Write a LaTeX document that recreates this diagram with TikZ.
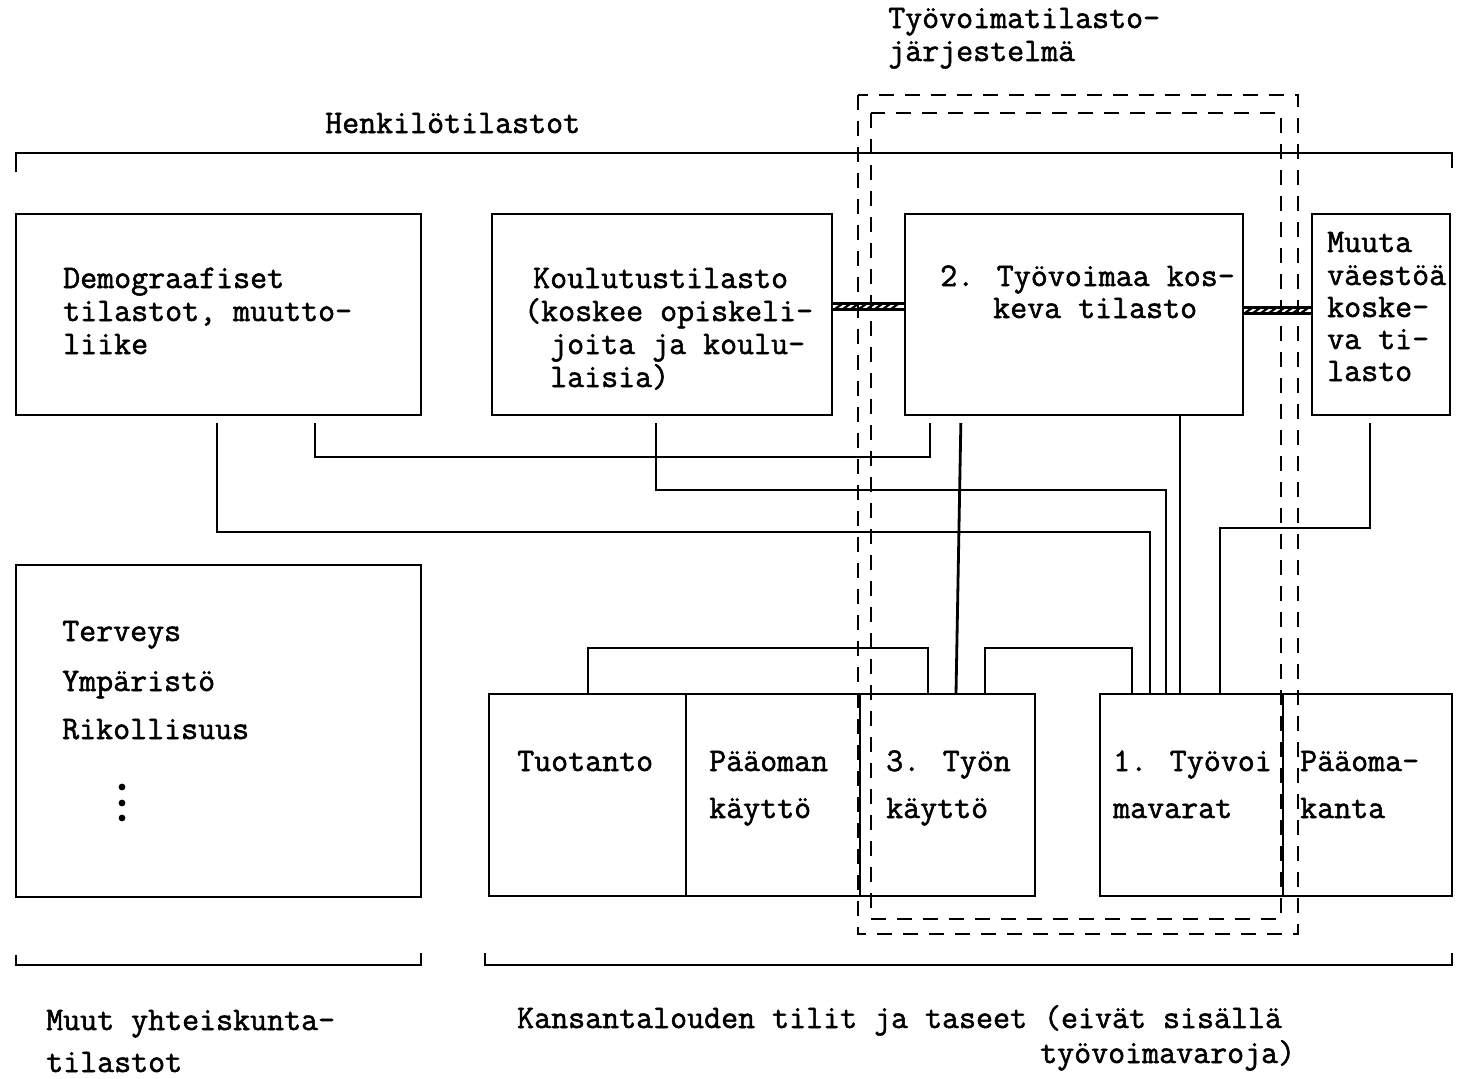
\documentclass[tikz,border=0pt]{standalone}
\usepackage{fontspec}
\newfontfamily\tw[FakeBold=1.6]{Latin Modern Mono}
\usetikzlibrary{calc}
\begin{document}
\begin{tikzpicture}[x=1pt,y=-1pt,
  box/.style={draw, line width=2.8pt, inner sep=0pt, outer sep=0pt, anchor=north west},
  conn/.style={draw, line width=2.8pt},
  gap/.style={shorten <=8pt},
  frame/.style={draw, line width=2.8pt, dash pattern=on 15pt off 11pt},
  hatch/.style={line width=2.2pt},
  txt/.style={anchor=base west, inner sep=0pt, font=\tw\fontsize{33}{33}\selectfont}]
\useasboundingbox[fill=white] (0,0) rectangle (1465,1079);

% boxes
\node[box, minimum width=405pt, minimum height=201pt] (demo) at (16,214) {};
\node[box, minimum width=340pt, minimum height=201pt] (kou) at (492,214) {};
\node[box, minimum width=338pt, minimum height=201pt] (tv2) at (905,214) {};
\node[box, minimum width=138pt, minimum height=201pt] (muuta) at (1312,214) {};
\node[box, minimum width=405pt, minimum height=332pt] (terv) at (16,565) {};
\node[box, minimum width=197pt, minimum height=202pt] (tuo) at (489,694) {};
\node[box, minimum width=174pt, minimum height=202pt] (paa) at (686,694) {};
\node[box, minimum width=175pt, minimum height=202pt] (tyon) at (860,694) {};
\node[box, minimum width=183pt, minimum height=202pt] (tvv) at (1100,694) {};
\node[box, minimum width=169pt, minimum height=202pt] (pk) at (1283,694) {};

% dashed frames of the labour statistics system
\draw[frame] (858,95) rectangle (1298,934);
\draw[frame] (871,113) rectangle (1281,919);

% brackets
\draw[conn] (16,172) -- (16,153) -- (1452,153) -- (1452,168);
\draw[conn] (16,955) -- (16,965) -- (421,965) -- (421,953);
\draw[conn] (485,953) -- (485,965) -- (1452,965) -- (1452,953);

% hatched links
\draw[hatch] ([yshift=11pt]kou.east) -- ([yshift=11pt]tv2.west);
\draw[hatch] ([yshift=5pt]kou.east) -- ([yshift=5pt]tv2.west);
\foreach \x in {835,843,...,897} \draw[hatch] (\x,309) -- (\x+7,304);
\draw[hatch] ([yshift=7pt]tv2.east) -- ([yshift=7pt]muuta.west);
\draw[hatch] ([yshift=1pt]tv2.east) -- ([yshift=1pt]muuta.west);
\foreach \x in {1245,1253,...,1304} \draw[hatch] (\x,313) -- (\x+7,308);

% connectors
\draw[conn] ([xshift=99pt]tuo.north west) -- ++(0,-46) -| ([xshift=68pt]tyon.north west);
\draw[conn] ([xshift=125pt]tyon.north west) -- ++(0,-46) -| ([xshift=32pt]tvv.north west);
\draw[conn, gap] ([xshift=56pt]tv2.south west) -- ([xshift=96pt]tyon.north west);
\draw[conn, gap, shorten >=8pt] ([xshift=299pt]demo.south west) -- ++(0,42) -| ([xshift=25pt]tv2.south west);
\draw[conn, gap] ([xshift=164pt]kou.south west) -- ++(0,75) -| ([xshift=66pt]tvv.north west);
\draw[conn, gap] ([xshift=201pt]demo.south west) -- ++(0,117) -| ([xshift=50pt]tvv.north west);
\draw[conn] ([xshift=275pt]tv2.south west) -- ([xshift=80pt]tvv.north west);
\draw[conn, gap] ([xshift=58pt]muuta.south west) -- ++(0,113) -| ([xshift=120pt]tvv.north west);

% texts
\node[txt] (t1a) at (888,28) {Työvoimatilasto-};
\node[txt] (t1b) at (888,61) {järjestelmä};
\node[txt] (th) at (325,133) {Henkilötilastot};
\node[txt] (d1) at (63,288) {Demograafiset};
\node[txt] (d2) at (63,321) {tilastot, muutto-};
\node[txt] (d3) at (63,354) {liike};
\node[txt] (k1) at (533,288) {Koulutustilasto};
\node[txt] (k2) at (524,321) {(koskee opiskeli-};
\node[txt] (k3) at (550,354) {joita ja koulu-};
\node[txt] (k4) at (550,387) {laisia)};
\node[txt] (w1) at (940,286) {2. Työvoimaa kos-};
\node[txt] (w2) at (993,318) {keva tilasto};
\node[txt] (m1) at (1327,252) {Muuta};
\node[txt] (m2) at (1327,285) {väestöä};
\node[txt] (m3) at (1327,317) {koske-};
\node[txt] (m4) at (1327,349) {va ti-};
\node[txt] (m5) at (1327,381) {lasto};
\node[txt] (r1) at (62,641) {Terveys};
\node[txt] (r2) at (62,691) {Ympäristö};
\node[txt] (r3) at (62,739) {Rikollisuus};
\foreach \y in {787,803,818} \fill (122,\y) circle (3.4pt);
\node[txt] (b1) at (517,771) {Tuotanto};
\node[txt] (b2) at (709,771) {Pääoman};
\node[txt] (b3) at (709,818) {käyttö};
\node[txt] (b4) at (886,771) {3. Työn};
\node[txt] (b5) at (886,818) {käyttö};
\node[txt] (b6) at (1113,771) {1. Työvoi};
\node[txt] (b7) at (1113,818) {mavarat};
\node[txt] (b8) at (1300,771) {Pääoma-};
\node[txt] (b9) at (1300,818) {kanta};
\node[txt] (u1) at (46,1030) {Muut yhteiskunta-};
\node[txt] (u2) at (46,1072) {tilastot};
\node[txt] (u3) at (517,1028) {Kansantalouden tilit ja taseet (eivät sisällä};
\node[txt] (u4) at (1040,1063) {työvoimavaroja)};
\end{tikzpicture}
\end{document}
